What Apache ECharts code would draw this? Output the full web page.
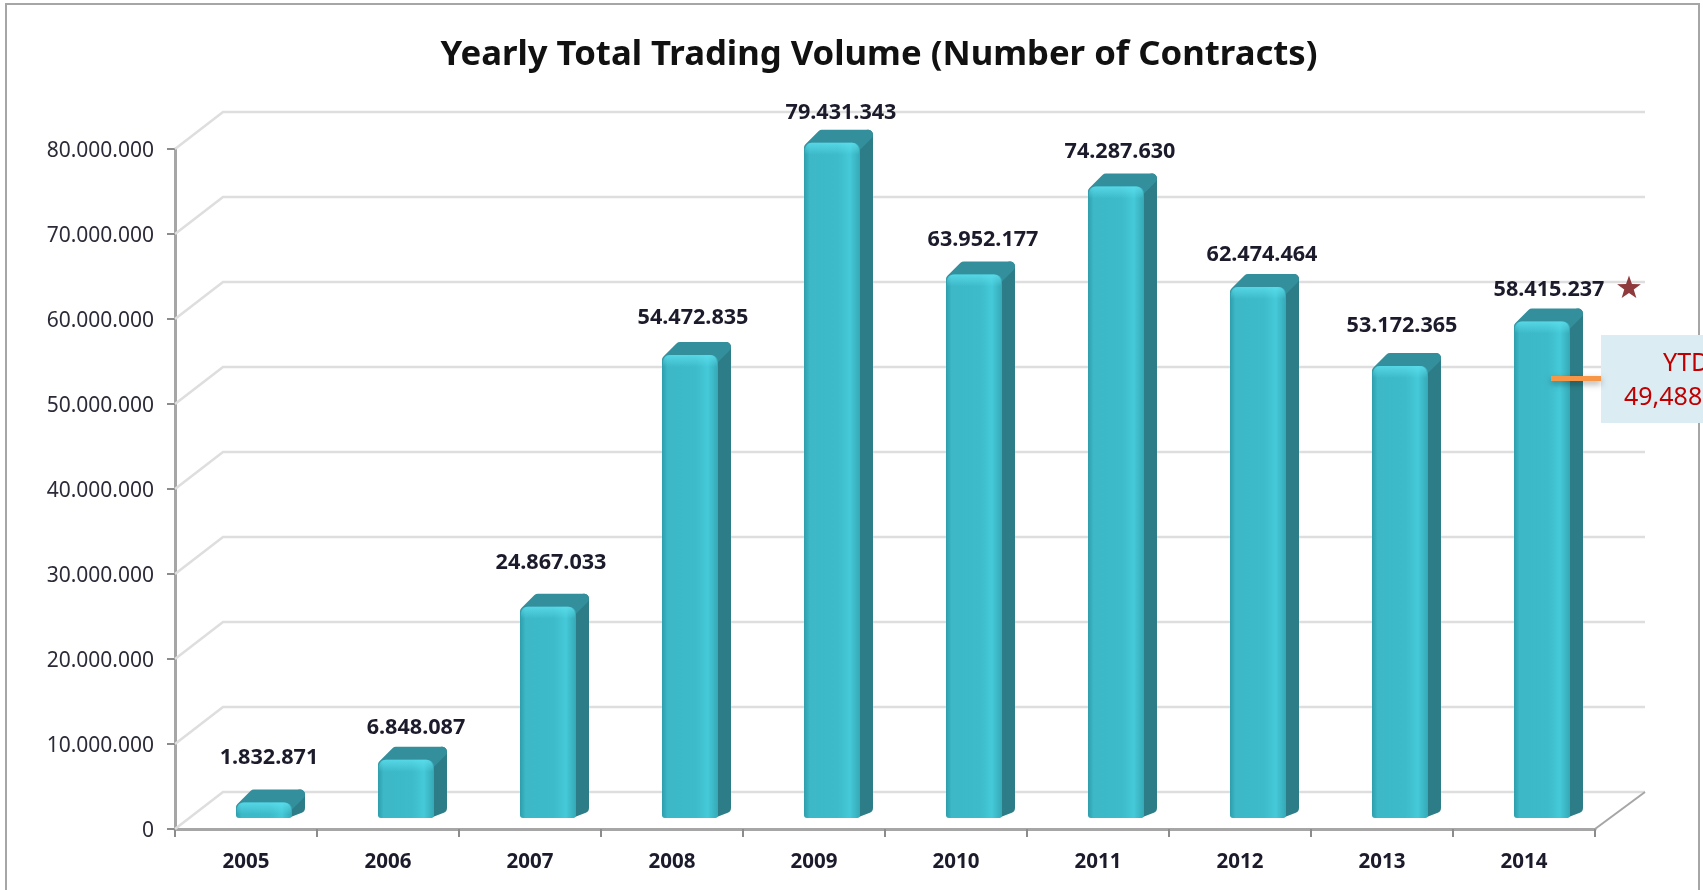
<!DOCTYPE html>
<html><head><meta charset="utf-8">
<style>html,body{margin:0;padding:0;background:#fff}#c{width:1703px;height:890px}</style>
<script src="https://cdn.jsdelivr.net/npm/echarts@6/dist/echarts.min.js"></script>
</head><body><div id="c"></div>
<script>
const years = ['2005','2006','2007','2008','2009','2010','2011','2012','2013','2014'];
const volumes = [1832871,6848087,24867033,54472835,79431343,63952177,74287630,62474464,53172365,58415237];
const yTicks = [0,10000000,20000000,30000000,40000000,50000000,60000000,70000000,80000000];
const titleText = 'Yearly Total Trading Volume (Number of Contracts)';
const ytdLines = ['YTD','49,488'];
// hand placement of the data labels in the reference, relative to the category centre / bar top
const labelDx = [23,28,21,21,27,27,22,22,20,25];
const labelGap = [33,20,32,25,18,23,23,20,28,20];

const FONT = '"Noto Sans", sans-serif';
const dots = v => String(v).replace(/\B(?=(\d{3})+$)/g,'.');
const DEPTH_X = 48, DEPTH_Y = 37, FLOOR_LIFT = 11, BAR_L = -10, BAR_W = 56, SIDE = 13;

function wallItem(params, api){
  const cs = params.coordSys, v = api.value(1);
  const y = api.coord([0, v])[1], x0 = cs.x, x1 = cs.x + cs.width;
  const kids = [{type:'polyline',shape:{points:[[x0,y],[x0+DEPTH_X,y-DEPTH_Y],[x1+50,y-DEPTH_Y]]},
    style:{stroke:'#dedede',lineWidth:2.5,fill:null}}];
  if (v === 0) kids.push({type:'line',shape:{x1:x1,y1:y,x2:x1+50,y2:y-DEPTH_Y},style:{stroke:'#a6a6a6',lineWidth:2}});
  return {type:'group',children:kids};
}
function barItem(params, api){
  const i = api.value(0), v = api.value(1), idx = params.dataIndex;
  const b = api.coord([i,0]), t = api.coord([i,v]);
  const xl = b[0]+BAR_L, xr = xl+BAR_W, yb = b[1]-FLOOR_LIFT, yt = t[1]-FLOOR_LIFT, h = yb-yt;
  const r = 5;
  const side = [[xr-r,yt+r-2],[xr+SIDE-r,yt-SIDE+r],[xr+SIDE-r,yb-SIDE+r-2],[xr-r,yb-r]];
  const top = [[xl+r,yt+r],[xl+SIDE+r,yt-SIDE+r],[xr+SIDE-r,yt-SIDE+r],[xr-r,yt+r]];
  return {type:'group',children:[
    {type:'polygon',shape:{points:side},style:{fill:'#2c7d87',stroke:'#2c7d87',lineWidth:2*r,lineJoin:'round'}},
    {type:'polygon',shape:{points:top},style:{fill:'#348f9c',stroke:'#348f9c',lineWidth:2*r,lineJoin:'round'}},
    {type:'rect',shape:{x:xl,y:yt,width:BAR_W,height:h,r:[7,7,3,3]},style:{fill:{type:'linear',x:0,y:0,x2:1,y2:0,colorStops:[
      {offset:0,color:'#2f9dab'},{offset:.1,color:'#3cb8c7'},{offset:.6,color:'#3dbbca'},{offset:.82,color:'#45c9d8'},{offset:1,color:'#35a9b6'}]}}},
    {type:'rect',shape:{x:xl+1,y:yt,width:BAR_W-2,height:Math.min(h,12),r:[7,7,0,0]},style:{fill:{type:'linear',x:0,y:0,x2:0,y2:1,colorStops:[
      {offset:0,color:'rgba(95,225,240,0.75)'},{offset:1,color:'rgba(95,225,240,0)'}]}}},
    {type:'text',style:{text:dots(v),x:b[0]+labelDx[idx],y:yt-SIDE-labelGap[idx]+1,align:'center',verticalAlign:'middle',
      font:'bold 21.6px '+FONT,fill:'#1b1b2b'}}
  ]};
}
const starPts = [];
for (let k=0;k<10;k++){const a=-Math.PI/2+k*Math.PI/5,r=k%2?5:12.5;starPts.push([1629+r*Math.cos(a),288+r*Math.sin(a)]);}

const chart = echarts.init(document.getElementById('c'),null,{renderer:'canvas'});
chart.setOption({
  animation:false,
  backgroundColor:'#fff',
  title:{text:titleText,left:874,top:33,textAlign:'center',textStyle:{fontFamily:FONT,fontWeight:'bold',fontSize:34.7,color:'#111'}},
  grid:{left:175,right:108,top:149,height:680,containLabel:false},
  xAxis:{type:'category',data:years,
    axisLine:{lineStyle:{color:'#a6a6a6',width:3}},
    axisTick:{show:true,length:8,lineStyle:{color:'#8c8c8c',width:2}},
    axisLabel:{fontFamily:FONT,fontWeight:'bold',fontSize:20.5,color:'#1b1b2b',margin:23},
    splitLine:{show:false}},
  yAxis:{type:'value',min:0,max:80000000,interval:10000000,
    axisLine:{show:true,lineStyle:{color:'#a6a6a6',width:3}},
    axisTick:{show:true,length:8,lineStyle:{color:'#8c8c8c',width:2}},
    axisLabel:{fontFamily:FONT,fontSize:21,color:'#2b2b38',margin:21,verticalAlign:'top',lineHeight:4,formatter:v=>dots(v)},
    splitLine:{show:false}},
  series:[
    {type:'custom',name:'wall',silent:true,clip:false,z:1,renderItem:wallItem,data:yTicks.map(v=>[0,v]),encode:{x:0,y:1}},
    {type:'custom',name:'Trading volume',clip:false,z:3,renderItem:barItem,data:volumes.map((v,i)=>[i,v]),encode:{x:0,y:1}}
  ],
  graphic:[
    {type:'polyline',z:0,shape:{points:[[6,890],[6,4],[1699,4],[1699,890]]},style:{stroke:'#a6a6a6',lineWidth:2,fill:null}},
    {type:'polygon',z:10,shape:{points:starPts},style:{fill:'#8f3a3c'}},
    {type:'rect',z:10,shape:{x:1601,y:335,width:102,height:88},style:{fill:'#dbecf2'}},
    {type:'rect',z:10,shape:{x:1551,y:376,width:50,height:5},style:{fill:'#f79646',shadowBlur:6,shadowColor:'rgba(0,0,0,0.35)',shadowOffsetY:3}},
    {type:'text',z:11,style:{text:ytdLines[0],x:1663,y:364,verticalAlign:'middle',font:'25px '+FONT,fill:'#c00000'}},
    {type:'text',z:11,style:{text:ytdLines[1],x:1624,y:398,verticalAlign:'middle',font:'25px '+FONT,fill:'#c00000'}}
  ]
});
</script></body></html>
